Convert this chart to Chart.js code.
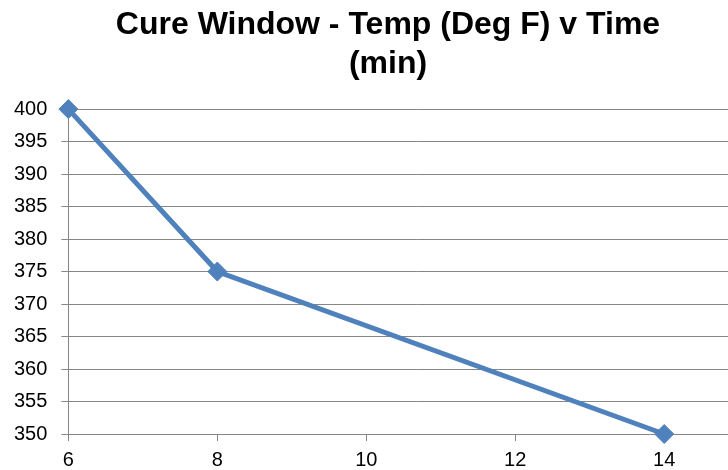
<!DOCTYPE html>
<html>
<head>
<meta charset="utf-8">
<script src="https://cdn.jsdelivr.net/npm/chart.js@4"></script>
<style>
html,body{margin:0;padding:0;background:#fff;overflow:hidden;}
#wrap{width:728px;height:470px;overflow:hidden;position:relative;}
canvas{display:block;}
</style>
</head>
<body>
<div id="wrap"><canvas id="c" width="776" height="470"></canvas></div>
<script>
const timeMin = [6, 8, 14];
const tempF = [400, 375, 350];
const titleLines = ['Cure Window - Temp (Deg F) v Time', '(min)'];
const xMin = 6, xMax = 15.36, xStep = 2, xLastLabel = 14;
const yMin = 350, yMax = 400, yStep = 5;

const points = timeMin.map((x, i) => ({x: x, y: tempF[i]}));
Chart.defaults.font.family = "'Liberation Sans', Arial, sans-serif";
Chart.defaults.color = '#000';

new Chart(document.getElementById('c'), {
  type: 'scatter',
  data: {
    datasets: [{
      data: points,
      showLine: true,
      clip: false,
      borderColor: '#4F81BD',
      backgroundColor: '#4F81BD',
      borderWidth: 5,
      pointStyle: 'rectRot',
      pointRadius: 9.5,
      pointHoverRadius: 9.5,
      pointBorderWidth: 1,
      tension: 0
    }]
  },
  options: {
    responsive: false,
    animation: false,
    devicePixelRatio: 1,
    layout: {padding: {left: 0, right: 0, top: 0, bottom: -9}},
    plugins: {
      legend: {display: false},
      tooltip: {enabled: false},
      title: {
        display: true,
        text: titleLines,
        font: {size: 32, weight: 'bold', lineHeight: 1.22},
        color: '#000',
        padding: {top: 6, bottom: 25}
      }
    },
    scales: {
      x: {
        type: 'linear',
        min: xMin, max: xMax,
        ticks: {
          stepSize: xStep,
          font: {size: 20},
          padding: 7,
          maxRotation: 0,
          callback: v => (v > xLastLabel ? null : v)
        },
        grid: {drawOnChartArea: false, drawTicks: true, tickLength: 7, color: '#868686'},
        border: {color: '#868686', width: 1}
      },
      y: {
        min: yMin, max: yMax,
        ticks: {stepSize: yStep, font: {size: 20}, padding: 14},
        grid: {drawTicks: true, tickLength: 7, color: '#868686', lineWidth: 1},
        border: {color: '#868686', width: 1}
      }
    }
  }
});
</script>
</body>
</html>
